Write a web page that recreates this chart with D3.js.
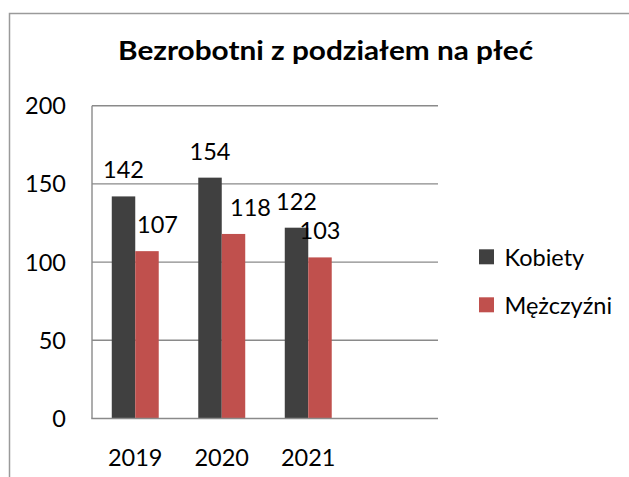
<!DOCTYPE html>
<html>
<head>
<meta charset="utf-8">
<script src="https://cdn.jsdelivr.net/npm/d3@7/dist/d3.min.js"></script>
<style>
  body { margin: 0; background: #fff; }
  svg { display: block; font-family: Lato, "Open Sans", sans-serif; }
</style>
</head>
<body>
<svg width="629" height="477"></svg>
<script>
const svg = d3.select("svg");

// DATA
const categories = ["2019", "2020", "2021", ""];
const seriesNames = ["Kobiety", "Mężczyźni"];
const kobiety = [142, 154, 122, null];
const mezczyzni = [107, 118, 103, null];
const yTicks = [0, 50, 100, 150, 200];
const title = "Bezrobotni z podziałem na płeć";

const colors = { "Kobiety": "#404040", "Mężczyźni": "#c0504d" };
const seriesValues = { "Kobiety": kobiety, "Mężczyźni": mezczyzni };

// CONSTANTS
const plot = { left: 92, right: 438, top: 105.7, bottom: 418.5 };
const gridColor = "#8a8a8a";
const fontSize = 23.5;

// outer chart border (cut off at right and bottom like the picture)
svg.append("rect")
  .attr("x", 9.5).attr("y", 13.5)
  .attr("width", 640).attr("height", 480)
  .attr("fill", "none")
  .attr("stroke", "#9a9a9a")
  .attr("stroke-width", 1.5);

// title
svg.append("text")
  .attr("x", 325.5).attr("y", 60)
  .attr("text-anchor", "middle")
  .attr("font-weight", "bold")
  .attr("font-size", 26.5)
  .attr("textLength", 415)
  .attr("lengthAdjust", "spacingAndGlyphs")
  .attr("fill", "#000")
  .text(title);

//SCALES
const xScale = d3.scaleBand()
  .domain(categories)
  .range([plot.left, plot.right])
  .paddingInner(0).paddingOuter(0);

const groupFrac = 0.543;
const bw = xScale.bandwidth();
const x1 = d3.scaleBand()
  .domain(seriesNames)
  .range([(bw - bw * groupFrac) / 2, (bw + bw * groupFrac) / 2]);

const yScale = d3.scaleLinear().domain([0, 200]).range([plot.bottom, plot.top]);

// gridlines
svg.append("g")
  .selectAll("line")
  .data(yTicks.filter(d => d > 0))
  .join("line")
  .attr("x1", plot.left).attr("x2", plot.right)
  .attr("y1", d => yScale(d)).attr("y2", d => yScale(d))
  .attr("stroke", gridColor)
  .attr("stroke-width", 1.4);

// y tick labels
svg.append("g")
  .selectAll("text")
  .data(yTicks)
  .join("text")
  .attr("x", 66)
  .attr("y", d => yScale(d))
  .attr("dy", "0.36em")
  .attr("text-anchor", "end")
  .attr("font-size", fontSize)
  .attr("fill", "#000")
  .text(d => d);

// rows for bars
const rows = [];
categories.forEach((c, i) => {
  seriesNames.forEach(s => {
    const v = seriesValues[s][i];
    if (v != null) rows.push({ cat: c, series: s, value: v });
  });
});

const g = svg.append("g");

g.selectAll("rect")
  .data(rows)
  .join("rect")
  .attr("x", d => xScale(d.cat) + x1(d.series))
  .attr("y", d => yScale(d.value))
  .attr("width", x1.bandwidth())
  .attr("height", d => yScale(0) - yScale(d.value))
  .attr("fill", d => colors[d.series]);

// value labels, a few nudged sideways as in the picture
const labelNudge = { "2019|Mężczyźni": 10.5, "2020|Mężczyźni": 17 };
g.selectAll("text")
  .data(rows)
  .join("text")
  .attr("x", d => xScale(d.cat) + x1(d.series) + x1.bandwidth() / 2 + (labelNudge[d.cat + "|" + d.series] || 0))
  .attr("y", d => yScale(d.value) - 18)
  .attr("text-anchor", "middle")
  .attr("font-size", fontSize)
  .attr("fill", "#000")
  .text(d => d.value);

// axes lines
svg.append("line")
  .attr("x1", plot.left).attr("x2", plot.left)
  .attr("y1", plot.top).attr("y2", plot.bottom)
  .attr("stroke", gridColor).attr("stroke-width", 1.4);
svg.append("line")
  .attr("x1", plot.left - 0.7).attr("x2", plot.right)
  .attr("y1", plot.bottom).attr("y2", plot.bottom)
  .attr("stroke", gridColor).attr("stroke-width", 1.4);

// x labels
svg.append("g")
  .selectAll("text")
  .data(categories)
  .join("text")
  .attr("x", d => xScale(d) + bw / 2)
  .attr("y", 465.7)
  .attr("text-anchor", "middle")
  .attr("font-size", fontSize)
  .attr("fill", "#000")
  .text(d => d);

// legend
const legend = svg.append("g")
  .selectAll("g")
  .data(seriesNames)
  .join("g")
  .attr("transform", (d, i) => `translate(479, ${249.3 + i * 48})`);

legend.append("rect")
  .attr("width", 15).attr("height", 15)
  .attr("fill", d => colors[d]);

legend.append("text")
  .attr("x", 25.5).attr("y", 17)
  .attr("font-size", fontSize)
  .attr("fill", "#000")
  .text(d => d);
</script>
</body>
</html>
